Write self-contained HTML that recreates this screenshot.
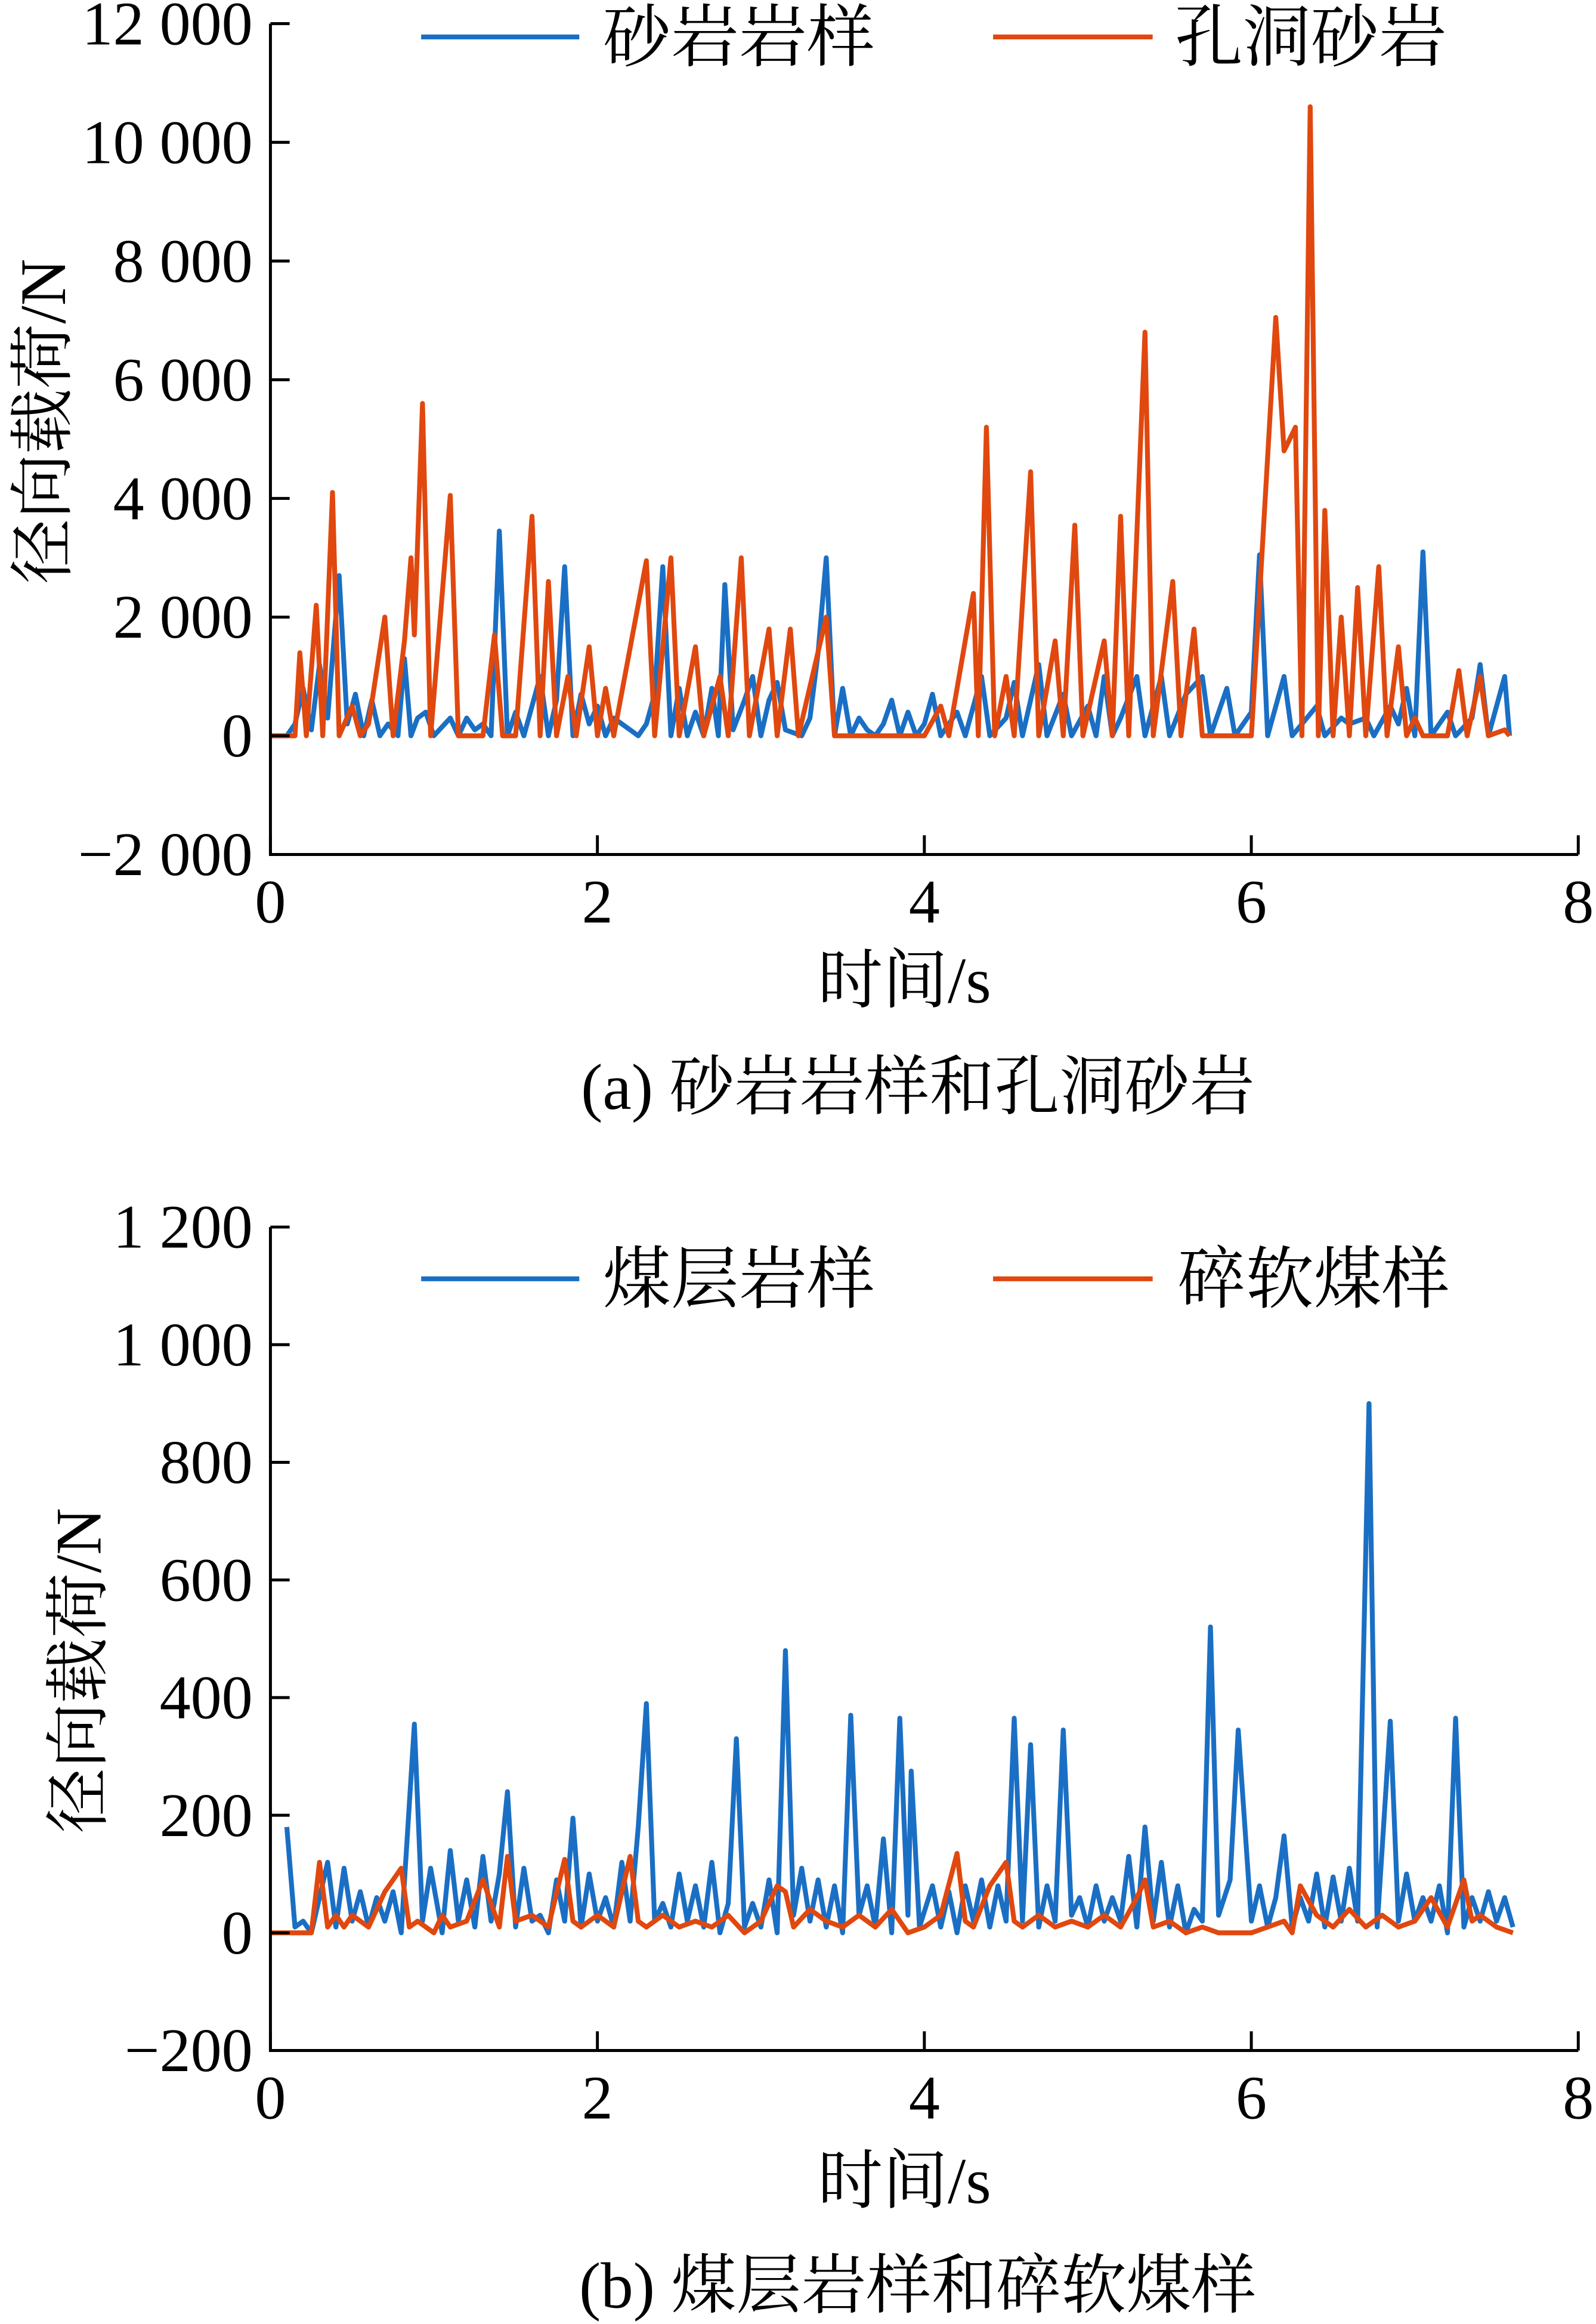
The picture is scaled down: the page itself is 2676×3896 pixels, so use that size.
<!DOCTYPE html>
<html><head><meta charset="utf-8"><style>
html,body{margin:0;padding:0;background:#fff}
svg{display:block}
text{font-family:"Liberation Serif","Noto Serif CJK SC",serif;fill:#000}
</style></head><body>
<svg id="fig" width="2676" height="3896" viewBox="0 0 1080 1572" preserveAspectRatio="none" xmlns="http://www.w3.org/2000/svg"></svg>
<script>
// ---- Chart (a) data ----
const aBlueT=[0,0.1,0.15,0.2,0.25,0.3,0.35,0.42,0.47,0.52,0.57,0.62,0.67,0.72,0.78,0.82,0.86,0.9,0.95,1.0,1.1,1.15,1.2,1.25,1.3,1.35,1.4,1.45,1.5,1.55,1.65,1.7,1.75,1.8,1.85,1.9,1.95,2.0,2.05,2.1,2.2,2.25,2.3,2.35,2.4,2.45,2.5,2.55,2.6,2.65,2.7,2.74,2.78,2.83,2.9,2.95,3.0,3.05,3.1,3.15,3.25,3.3,3.35,3.4,3.45,3.5,3.55,3.6,3.65,3.7,3.75,3.8,3.85,3.9,3.95,4.0,4.05,4.1,4.2,4.25,4.35,4.4,4.5,4.55,4.6,4.7,4.75,4.85,4.9,5.0,5.05,5.1,5.15,5.2,5.3,5.35,5.45,5.5,5.6,5.7,5.75,5.85,5.9,6.0,6.05,6.1,6.2,6.25,6.4,6.45,6.55,6.6,6.7,6.75,6.85,6.9,6.95,7.0,7.05,7.1,7.2,7.25,7.35,7.4,7.45,7.55,7.58];
const aBlueV=[0,0,200,800,100,1200,300,2700,200,700,0,600,0,200,0,1300,0,300,400,0,300,0,300,100,200,0,3450,0,400,0,1000,0,600,2850,0,700,200,500,0,300,100,0,200,700,2850,0,800,0,400,0,800,0,2550,100,600,1000,0,600,900,100,0,300,1400,3000,0,800,0,300,100,0,200,600,0,400,0,200,700,0,400,0,1000,0,300,900,0,1200,0,700,0,500,0,1000,0,300,1000,0,1000,0,700,1000,0,800,0,400,3050,0,1000,0,500,0,300,200,300,0,500,200,800,0,3100,0,400,0,300,1200,0,1000,0];
const aOrT=[0,0.15,0.18,0.22,0.28,0.32,0.38,0.42,0.5,0.55,0.6,0.7,0.75,0.82,0.86,0.88,0.93,0.98,1.1,1.15,1.3,1.37,1.42,1.5,1.6,1.65,1.7,1.75,1.82,1.87,1.95,2.0,2.05,2.1,2.3,2.35,2.45,2.5,2.6,2.65,2.75,2.8,2.88,2.93,3.05,3.1,3.18,3.23,3.4,3.45,3.6,4.0,4.1,4.15,4.3,4.33,4.38,4.43,4.5,4.55,4.65,4.7,4.8,4.85,4.92,4.97,5.1,5.15,5.2,5.25,5.35,5.4,5.52,5.57,5.65,5.7,6.0,6.15,6.2,6.27,6.31,6.36,6.41,6.45,6.5,6.55,6.6,6.65,6.7,6.78,6.83,6.9,6.95,7.0,7.05,7.2,7.27,7.32,7.4,7.45,7.55,7.58];
const aOrV=[0,0,1400,0,2200,0,4100,0,500,0,200,2000,0,1600,3000,1700,5600,0,4050,0,0,1700,0,0,3700,0,2600,0,1000,0,1500,0,800,0,2950,0,3000,0,1500,0,1000,0,3000,0,1800,0,1800,0,2000,0,0,0,500,0,2400,0,5200,0,1000,0,4450,0,1600,0,3550,0,1600,0,3700,0,6800,0,2600,0,1800,0,0,7050,4800,5200,0,10600,0,3800,0,2000,0,2500,0,2850,0,1500,0,300,0,0,1100,0,1000,0,100,0];
const aYTicks=[-2000,0,2000,4000,6000,8000,10000,12000];
const aYLabels=["\u22122 000","0","2 000","4 000","6 000","8 000","10 000","12 000"];
// ---- Chart (b) data ----
const bBlueT=[0.1,0.15,0.2,0.25,0.3,0.35,0.4,0.45,0.5,0.55,0.6,0.65,0.7,0.75,0.8,0.88,0.93,0.98,1.05,1.1,1.15,1.2,1.25,1.3,1.35,1.4,1.45,1.5,1.55,1.6,1.65,1.7,1.75,1.8,1.85,1.9,1.95,2.0,2.05,2.1,2.15,2.2,2.25,2.3,2.35,2.4,2.45,2.5,2.55,2.6,2.65,2.7,2.75,2.8,2.85,2.9,2.95,3.0,3.05,3.1,3.15,3.2,3.25,3.3,3.35,3.4,3.45,3.5,3.55,3.6,3.65,3.7,3.75,3.8,3.85,3.9,3.92,3.97,4.05,4.1,4.15,4.2,4.25,4.3,4.35,4.4,4.45,4.5,4.55,4.6,4.65,4.7,4.75,4.8,4.85,4.9,4.95,5.0,5.05,5.1,5.15,5.2,5.25,5.3,5.35,5.4,5.45,5.5,5.55,5.6,5.65,5.7,5.75,5.8,5.87,5.92,6.0,6.05,6.1,6.15,6.2,6.25,6.3,6.35,6.4,6.45,6.5,6.55,6.6,6.65,6.72,6.77,6.85,6.9,6.95,7.0,7.05,7.1,7.15,7.2,7.25,7.3,7.35,7.4,7.45,7.5,7.55,7.6];
const bBlueV=[180,10,20,0,60,120,10,110,20,70,10,60,20,70,0,355,20,110,0,140,20,90,10,130,20,100,240,10,110,20,30,0,90,20,195,10,100,20,60,10,120,20,180,390,20,50,10,100,20,80,10,120,0,50,330,10,50,10,90,0,480,30,110,20,90,10,80,0,370,30,80,10,160,0,365,30,275,10,80,10,70,0,80,20,90,10,80,20,365,20,320,10,80,20,345,30,60,10,80,20,60,20,130,10,180,20,120,10,80,0,40,20,520,30,90,345,20,80,10,60,165,10,60,20,100,10,95,20,110,20,900,10,360,20,100,20,60,20,80,0,365,10,60,20,70,20,60,10,95];
const bOrT=[0,0.25,0.3,0.35,0.4,0.45,0.5,0.6,0.7,0.8,0.85,0.9,1.0,1.05,1.1,1.2,1.3,1.4,1.45,1.5,1.6,1.7,1.8,1.85,1.9,2.0,2.1,2.2,2.25,2.3,2.4,2.5,2.6,2.7,2.8,2.9,3.0,3.1,3.15,3.2,3.3,3.4,3.5,3.6,3.7,3.8,3.9,4.0,4.1,4.2,4.25,4.3,4.4,4.5,4.55,4.6,4.7,4.8,4.9,5.0,5.1,5.2,5.3,5.35,5.4,5.5,5.6,5.7,5.8,5.9,6.0,6.1,6.2,6.25,6.3,6.4,6.5,6.6,6.7,6.8,6.9,7.0,7.1,7.2,7.3,7.35,7.4,7.5,7.6];
const bOrV=[0,0,120,10,30,10,30,10,70,110,10,20,0,30,10,20,90,10,130,20,30,10,125,20,10,30,10,130,20,10,30,10,20,10,30,0,20,80,70,10,40,20,10,30,10,40,0,10,30,135,20,10,80,120,20,10,30,10,20,10,30,10,60,90,10,20,0,10,0,0,0,10,20,0,80,30,10,40,10,30,10,20,60,10,90,20,30,10,0];
const bYTicks=[-200,0,200,400,600,800,1000,1200];
const bYLabels=["\u2212200","0","200","400","600","800","1 000","1 200"];
const xTicks=[0,2,4,6,8];

const NS="http://www.w3.org/2000/svg";
const svg=document.getElementById('fig');
function el(tag,attrs,txt,parent){const e=document.createElementNS(NS,tag);for(const k in attrs)e.setAttribute(k,attrs[k]);if(txt!=null)e.textContent=txt;(parent||svg).appendChild(e);return e;}
const X0=183,X1=1068;
const xs=t=>X0+(X1-X0)*t/8;

function chart(id,yTop,yBot,ymin,ymax,yT,yL,s1T,s1V,s2T,s2V,name1,name2,legY,legX2,ylabY,ylabX,xlabY,capY,cap){
  const g=el('g',{});
  
  
  const ys=v=>yBot-(yBot-yTop)*(v-ymin)/(ymax-ymin);
  const mk=(T,V,col,nm)=>{let d='';for(let i=0;i<T.length;i++)d+=(i?'L':'M')+xs(T[i]).toFixed(1)+' '+ys(V[i]).toFixed(1);
    const p=el('path',{d:d,fill:'none',stroke:col,'stroke-width':3.3,'stroke-linejoin':'round'},null,g);
    
    };
  mk(s1T,s1V,'#1a6fc4','series-'+id+'-'+'1');
  mk(s2T,s2V,'#e0480f','series-'+id+'-'+'2');
  const ax=el('path',{d:`M${X0} ${yTop}L${X0} ${yBot}L${X1} ${yBot}`,fill:'none',stroke:'#000','stroke-width':2},null,g);
  
  
  yT.forEach((v,i)=>{const y=ys(v);
    el('line',{x1:X0,y1:y,x2:X0+13,y2:y,stroke:'#000','stroke-width':2},null,g);
    const t=el('text',{x:171,y:y+14,'text-anchor':'end','font-size':42},yL[i],g);
    
    });
  xTicks.forEach(v=>{const x=xs(v);
    el('line',{x1:x,y1:yBot,x2:x,y2:yBot-13,stroke:'#000','stroke-width':2},null,g);
    const t=el('text',{x:x,y:yBot+46,'text-anchor':'middle','font-size':42},String(v),g);
    
    });
  el('line',{x1:285,y1:legY,x2:392,y2:legY,stroke:'#1a6fc4','stroke-width':3.3},null,g);
  const l1=el('text',{x:408,y:legY+16,'font-size':46},name1,g);
  
  
  el('line',{x1:672,y1:legY,x2:780,y2:legY,stroke:'#e0480f','stroke-width':3.3},null,g);
  const l2=el('text',{x:legX2,y:legY+16,'font-size':46},name2,g);
  
  
  const yl=el('text',{x:0,y:0,'font-size':44,'text-anchor':'middle',transform:`translate(${ylabX},${ylabY}) rotate(-90)`},'径向载荷/N',g);
  
  
  const xl=el('text',{x:612,y:xlabY,'font-size':44,'text-anchor':'middle'},'时间/s',g);
  
  
  const c=el('text',{x:621,y:capY,'font-size':44,'text-anchor':'middle','xml:space':'preserve'},cap,g);
  
  
}
chart('a',16,578,-2000,12000,aYTicks,aYLabels,aBlueT,aBlueV,aOrT,aOrV,'砂岩岩样','孔洞砂岩',25,795,285,44,678,750,'(a)  砂岩岩样和孔洞砂岩');
chart('b',830,1387,-200,1200,bYTicks,bYLabels,bBlueT,bBlueV,bOrT,bOrV,'煤层岩样','碎软煤样',865,797,1130,68,1490,1561,'(b)  煤层岩样和碎软煤样');
</script>
</body></html>
